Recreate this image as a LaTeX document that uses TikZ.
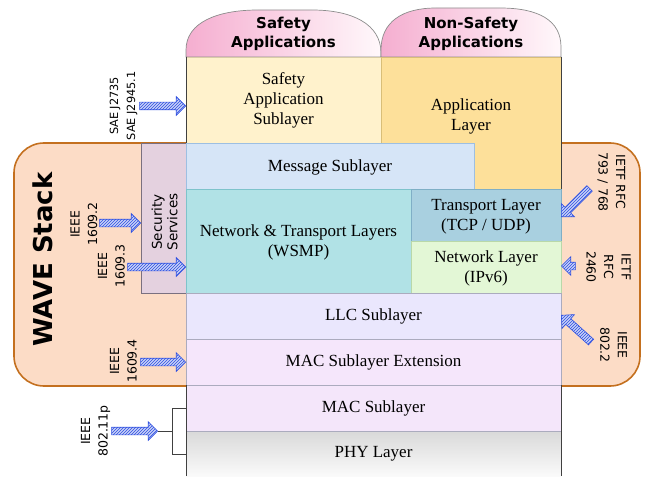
\documentclass[tikz,border=0pt]{standalone}
\usepackage{fontspec}
\setmainfont{Liberation Serif}
\newfontfamily\labelfont{DejaVu Sans}
\usetikzlibrary{shapes.arrows,patterns}

\definecolor{capPink}{HTML}{F5AED0}
\definecolor{capLight}{HTML}{FFF8FB}
\definecolor{capDraw}{HTML}{8C8C8C}
\definecolor{sasFill}{HTML}{FFF2CC}
\definecolor{sasDraw}{HTML}{D8CCA6}
\definecolor{appFill}{HTML}{FDE09A}
\definecolor{appDraw}{HTML}{D9BE78}
\definecolor{msgFill}{HTML}{D6E5F7}
\definecolor{msgDraw}{HTML}{9DBFE2}
\definecolor{ntFill}{HTML}{B1E2E6}
\definecolor{ntDraw}{HTML}{7EC3CB}
\definecolor{tlFill}{HTML}{A9D0E0}
\definecolor{tlDraw}{HTML}{7FAFC6}
\definecolor{nlFill}{HTML}{E3F7D6}
\definecolor{nlDraw}{HTML}{B9D8A9}
\definecolor{llcFill}{HTML}{EAE7FD}
\definecolor{mseFill}{HTML}{F5E6FB}
\definecolor{macFill}{HTML}{F4E6FA}
\definecolor{lowDraw}{HTML}{ABABBE}
\definecolor{phyTop}{HTML}{D9D9D9}
\definecolor{phyBottom}{HTML}{FAFAFA}
\definecolor{secFill}{HTML}{E4D1DF}
\definecolor{secDraw}{HTML}{7A7080}
\definecolor{waveFill}{HTML}{FCDCC6}
\definecolor{waveDraw}{HTML}{C4701F}
\definecolor{arrowBlue}{HTML}{2E4FE0}
\definecolor{arrowLight}{HTML}{C8D1F7}
\definecolor{edgeDark}{HTML}{404040}

\begin{document}
\begin{tikzpicture}[x=1pt,y=-1pt,
  layertext/.style={font=\fontsize{17}{20}\selectfont, align=center, inner sep=0pt},
  captext/.style={font=\labelfont\bfseries\fontsize{15}{19}\selectfont, align=center, inner sep=0pt},
  stdlabel/.style={font=\labelfont\fontsize{12.5}{17.5}\selectfont, align=center, inner sep=0pt},
  hatcharrow/.style={single arrow, draw=arrowBlue, line width=0.6pt,
    preaction={fill=arrowLight}, pattern=north east lines, pattern color=arrowBlue,
    inner xsep=0pt, inner ysep=3.5pt, single arrow head extend=5.5pt, anchor=tip},
  box/.style={line width=0.7pt},
  capshape/.style={draw=capDraw, line width=0.7pt, left color=capPink, right color=capLight},
  darkedge/.style={draw=edgeDark, line width=1pt},
  bracket/.style={draw=edgeDark, line width=0.8pt}
]
\useasboundingbox (0,0) rectangle (647,476);

% WAVE stack background
\filldraw[fill=waveFill, draw=waveDraw, line width=1.6pt, rounded corners=30pt] (14,143) rectangle (640,386);

% security column
\filldraw[box, fill=secFill, draw=secDraw] (141,143) rectangle (186,293);

% application caps (domes)
\path[capshape] (186,57) -- (186,50) .. controls (186,22) and (218,10) .. (258,10) -- (312,10) .. controls (352,10) and (381,24) .. (381,53) -- (381,57) -- cycle;
\path[capshape] (381,57) -- (381,50) .. controls (381,22) and (402,8) .. (436,8) -- (500,8) .. controls (538,8) and (561,20) .. (561,47) -- (561,57) -- cycle;

% layers
\filldraw[box, fill=sasFill, draw=sasDraw] (186,57) rectangle (381,143);
\filldraw[box, fill=appFill, draw=appDraw] (381,57) rectangle (561,189);
\filldraw[box, fill=msgFill, draw=msgDraw] (186,143) rectangle (474,189);
\filldraw[box, fill=ntFill, draw=ntDraw] (186,189) rectangle (411,293);
\filldraw[box, fill=tlFill, draw=tlDraw] (411,189) rectangle (561,241);
\filldraw[box, fill=nlFill, draw=nlDraw] (411,241) rectangle (561,293);
\filldraw[box, fill=llcFill, draw=lowDraw] (186,293) rectangle (561,339);
\filldraw[box, fill=mseFill, draw=lowDraw] (186,339) rectangle (561,385);
\filldraw[box, fill=macFill, draw=lowDraw] (186,385) rectangle (561,431);
\shade[top color=phyTop, bottom color=phyBottom] (186,431) rectangle (561,476);
\draw[box, draw=lowDraw] (186,431) -- (561,431);

% outer stack edges
\draw[darkedge] (186,57) -- (186,143);
\draw[darkedge] (561,57) -- (561,189);
\draw[darkedge] (186,385) -- (186,476);
\draw[darkedge] (561,385) -- (561,476);

% texts
\node[captext] (capS) at (283.5,34) {Safety\\Applications};
\node[captext] (capN) at (471,34) {Non-Safety\\Applications};
\node[layertext] (sasT) at (283.5,100) {Safety\\Application\\Sublayer};
\node[layertext] (appT) at (471,116) {Application\\Layer};
\node[layertext] (msgT) at (330,167) {Message Sublayer};
\node[layertext] (ntT) at (298.5,242) {Network \& Transport Layers\\(WSMP)};
\node[layertext] (tlT) at (486,217) {Transport Layer\\(TCP / UDP)};
\node[layertext] (nlT) at (486,268) {Network Layer\\(IPv6)};
\node[layertext] (llcT) at (373.5,316) {LLC Sublayer};
\node[layertext] (mseT) at (373.5,362) {MAC Sublayer Extension};
\node[layertext] (macT) at (373.5,408) {MAC Sublayer};
\node[layertext] (phyT) at (373.5,454) {PHY Layer};

\node[stdlabel, font=\labelfont\fontsize{13.5}{15.5}\selectfont, rotate=90] (secT) at (164.5,222) {Security\\Services};
\node[font=\labelfont\bfseries\fontsize{26}{30}\selectfont, rotate=90, inner sep=0pt] (waveT) at (43,259.5) {WAVE Stack};

% standards arrows
\node[hatcharrow, minimum height=46pt] (aSAE) at (186,106) {};
\node[hatcharrow, minimum height=41pt] (a1) at (141,223) {};
\node[hatcharrow, minimum height=58pt] (a2) at (186,267) {};
\node[hatcharrow, minimum height=45pt] (a3) at (186,362) {};
\node[hatcharrow, minimum height=46pt] (a4) at (158,431) {};
\node[hatcharrow, rotate=225, minimum height=40pt] (aR1) at (561,217) {};
\node[hatcharrow, rotate=180, minimum height=14pt] (aR2) at (561,266) {};
\node[hatcharrow, rotate=138, minimum height=40pt] (aR3) at (561,315) {};

% 802.11p bracket over MAC and PHY
\draw[bracket] (186,408) -- (172,408) -- (172,454) -- (186,454);
\draw[bracket] (a4.tip) -- (172,431);

% standards labels
\node[stdlabel, font=\labelfont\fontsize{11.3}{17}\selectfont, rotate=90] (lSAE) at (123.5,106) {SAE J2735\\SAE J2945.1};
\node[stdlabel, rotate=90] (l1) at (84,224) {IEEE\\1609.2};
\node[stdlabel, rotate=90] (l2) at (111.5,266) {IEEE\\1609.3};
\node[stdlabel, rotate=90] (l3) at (123.5,361) {IEEE\\1609.4};
\node[stdlabel, rotate=90] (l4) at (95.5,431) {IEEE\\802.11p};
\node[stdlabel, rotate=-90] (r1) at (611.5,182) {IETF RFC\\793 / 768};
\node[stdlabel, rotate=-90] (r2) at (608.5,267) {IETF\\RFC\\2460};
\node[stdlabel, rotate=-90] (r3) at (613.5,345) {IEEE\\802.2};
\end{tikzpicture}
\end{document}
